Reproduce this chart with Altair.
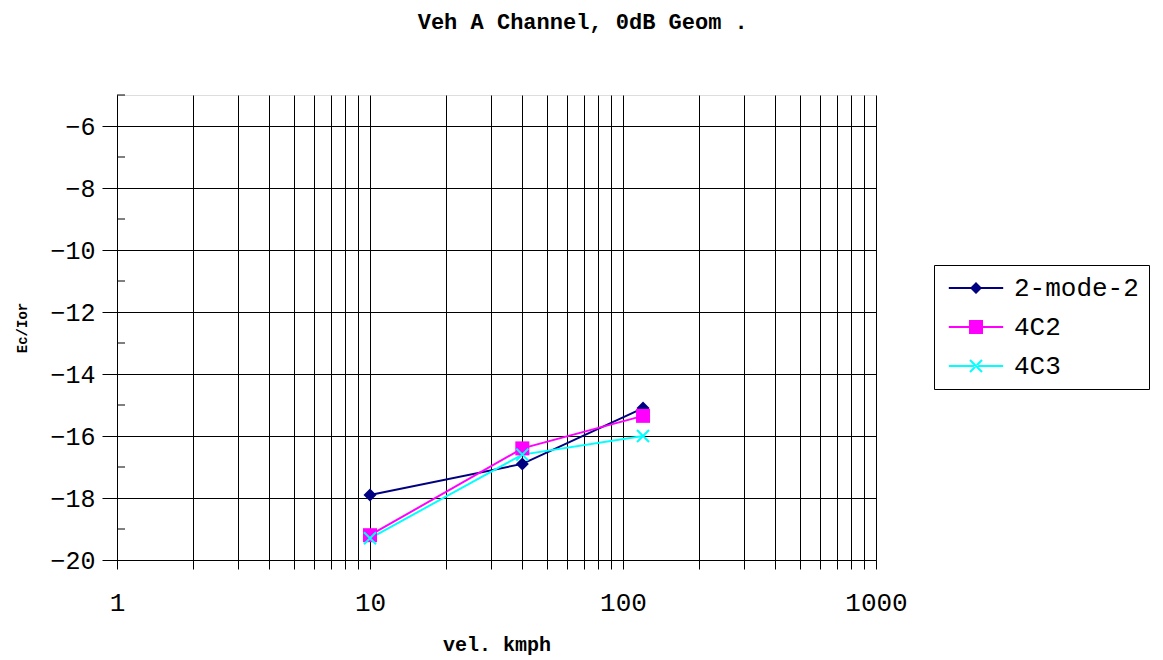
import altair as alt
import pandas as pd

series = ["2-mode-2", "4C2", "4C3"]
colors = ["#000080", "#FF00FF", "#00FFFF"]
speeds = [10, 40, 120]
ec_mode2 = [-17.9, -16.9, -15.1]
ec_4c2 = [-19.2, -16.4, -15.35]
ec_4c3 = [-19.3, -16.6, -16.0]

x_ticks = [1, 2, 3, 4, 5, 6, 7, 8, 9, 10, 20, 30, 40, 50, 60, 70, 80, 90,
           100, 200, 300, 400, 500, 600, 700, 800, 900, 1000]
y_ticks = list(range(-20, -4))
y_minor = [v for v in y_ticks if v % 2 != 0]

rows = []
for name, vals in zip(series, [ec_mode2, ec_4c2, ec_4c3]):
    for s, v in zip(speeds, vals):
        rows.append({"series": name, "vel": s, "ec": v})
df = pd.DataFrame(rows)
minor_df = pd.DataFrame({"ec": y_minor})

FONT = "Liberation Mono"
X_PATH = "M-1,-1L1,1M-1,1L1,-1"
LINE = "M-3.4,-0.125H3.4V0.125H-3.4Z"
legend_paths = [
    LINE + "M0,-0.75L0.75,0L0,0.75L-0.75,0Z",
    LINE + "M-0.875,-0.875H0.875V0.875H-0.875Z",
    LINE + "M-0.662,-0.838L0.838,0.662L0.662,0.838L-0.838,-0.662Z"
    "M-0.662,0.838L0.838,-0.662L0.662,-0.838L-0.838,0.662Z",
]

x_enc = alt.X(
    "vel:Q",
    scale=alt.Scale(type="log", domain=[1, 1000], nice=False),
    axis=alt.Axis(
        title="vel. kmph",
        values=x_ticks,
        format="d",
        labelExpr="indexof([1,10,100,1000], datum.value) >= 0 ? datum.label : ''",
        labelOverlap=False,
        labelFlush=False,
        grid=True,
        gridColor="black",
        gridWidth=1,
        gridOpacity=1,
        tickSize=9,
        tickColor="black",
        domainColor="black",
        labelFont=FONT,
        labelFontSize=26,
        labelColor="black",
        labelPadding=20,
        titleFont=FONT,
        titleFontSize=20,
        titleFontWeight="bold",
        titleColor="black",
        titlePadding=19,
    ),
)
y_enc = alt.Y(
    "ec:Q",
    scale=alt.Scale(domain=[-20, -5], nice=False, zero=False),
    axis=alt.Axis(
        title="Ec/Ior",
        values=y_ticks,
        format="d",
        labelExpr="datum.value % 2 == 0 ? datum.label : ''",
        labelOverlap=False,
        labelFlush=False,
        grid=True,
        gridColor="black",
        gridWidth=1,
        gridOpacity={"condition": {"test": "datum.value % 2 == 0", "value": 1}, "value": 0},
        tickSize={"condition": {"test": "datum.value % 2 == 0", "value": 15}, "value": 9},
        tickColor="black",
        domainColor="black",
        labelFont=FONT,
        labelFontSize=25,
        labelColor="black",
        labelPadding=7,
        titleFont=FONT,
        titleFontSize=14,
        titleFontWeight="bold",
        titleColor="black",
        titlePadding=20,
    ),
)

base = alt.Chart(df)
layers = []
for name, col in zip(series, colors):
    layers.append(
        base.transform_filter(alt.datum.series == name)
        .mark_line(color=col, strokeWidth=2)
        .encode(x=x_enc, y=y_enc)
    )
layers.append(
    base.transform_filter(alt.datum.series == series[0])
    .mark_point(shape="diamond", filled=True, size=169, color=colors[0], opacity=1)
    .encode(x="vel:Q", y="ec:Q")
)
layers.append(
    base.transform_filter(alt.datum.series == series[1])
    .mark_point(shape="square", filled=True, size=196, color=colors[1], opacity=1)
    .encode(x="vel:Q", y="ec:Q")
)
layers.append(
    base.transform_filter(alt.datum.series == series[2])
    .mark_point(shape=X_PATH, filled=False, size=144, color=colors[2], strokeWidth=2, opacity=1)
    .encode(x="vel:Q", y="ec:Q")
)
# legend-only layer
layers.append(
    base.mark_point(filled=True, opacity=0, size=256)
    .encode(
        x="vel:Q",
        y="ec:Q",
        color=alt.Color("series:N", scale=alt.Scale(domain=series, range=colors)),
        shape=alt.Shape(
            "series:N",
            scale=alt.Scale(domain=series, range=legend_paths),
            legend=alt.Legend(
                title=None,
                orient="none",
                legendX=817,
                legendY=170,
                strokeColor="black",
                padding=10,
                symbolSize=256,
                symbolOpacity=1,
                symbolStrokeWidth=0,
                symbolOffset=19,
                labelOffset=25,
                labelFont=FONT,
                labelFontSize=26,
                labelColor="black",
                rowPadding=13,
            ),
        ),
    )
)
layers.append(
    alt.Chart(minor_df)
    .mark_rule(color="black", strokeWidth=1)
    .encode(y=alt.Y("ec:Q"), x=alt.value(0), x2=alt.value(8))
)

chart = (
    alt.layer(*layers)
    .properties(
        width=759,
        height=465,
        title=alt.TitleParams(
            "Veh A Channel, 0dB Geom .",
            font=FONT,
            fontSize=22,
            fontWeight="bold",
            color="black",
            offset=61,
            frame="bounds",
        ),
        padding={"left": 7, "top": 2, "right": 5, "bottom": 5},
    )
    .configure_view(stroke=None)
    .configure(background="white")
)

chart.save("out.html", embed_options={"renderer": "svg", "actions": False})
